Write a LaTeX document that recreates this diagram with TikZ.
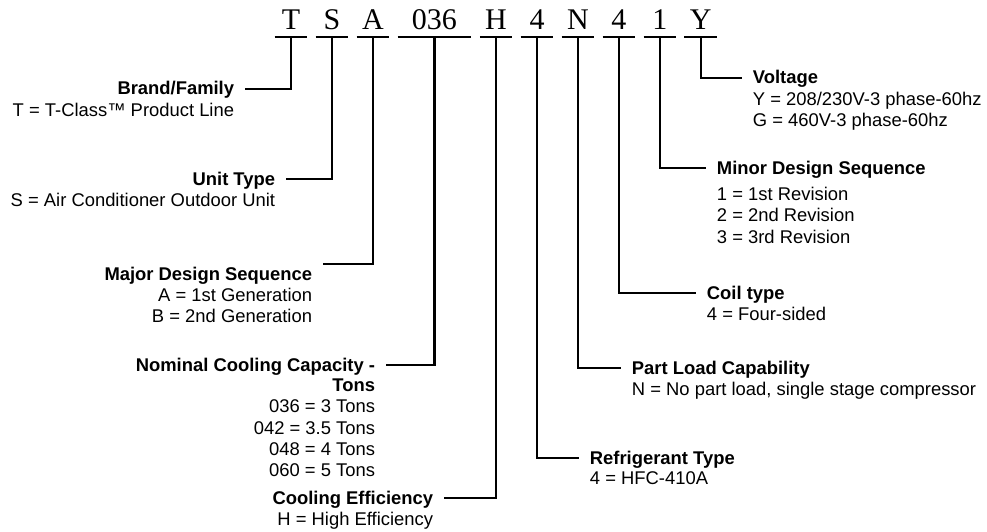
\documentclass[tikz,border=0pt]{standalone}
\usepackage{fontspec}
\setmainfont{Liberation Sans}
\newfontfamily\codefont{Liberation Serif}
\usetikzlibrary{positioning}
\tikzset{
    codechar/.style={font=\codefont\fontsize{22.5}{24}\selectfont, inner sep=0pt, text height=17pt, text depth=5pt, minimum width=24pt},
    head/.style={font=\fontsize{13.8}{16}\selectfont\bfseries, inner xsep=8pt, inner ysep=0pt, text height=12pt, text depth=3pt},
    desc/.style={font=\fontsize{13.8}{16}\selectfont, inner xsep=8pt, inner ysep=0pt},
    uline/.style={line width=1.8pt},
    lead/.style={line width=1.8pt}
}
\begin{document}
\begin{tikzpicture}[x=0.75pt, y=-0.75pt]
\useasboundingbox (0,0) rectangle (987,531);
% model number
\node[codechar, anchor=base] (cT) at (291,30) {T};
\node[codechar, right=6.3pt of cT] (cS) {S};
\node[codechar, right=6.3pt of cS] (cA) {A};
\node[codechar, right=6.3pt of cA, minimum width=55pt] (cCap) {036};
\node[codechar, right=6.3pt of cCap] (cH) {H};
\node[codechar, right=6.3pt of cH] (cRef) {4};
\node[codechar, right=6.3pt of cRef] (cN) {N};
\node[codechar, right=6.3pt of cN] (cCoil) {4};
\node[codechar, right=6.3pt of cCoil] (cMinor) {1};
\node[codechar, right=6.3pt of cMinor] (cY) {Y};
\foreach \c in {cT,cS,cA,cCap,cH,cRef,cN,cCoil,cMinor,cY}
    \draw[uline] (\c.south west) -- (\c.south east);

% left side
\node[head, anchor=east] (brand) at (245,89) {Brand/Family};
\node[desc, below left=2.4pt and 0pt of brand.south east] (brandd) {T = T-Class™ Product Line};
\node[head, anchor=east] (unit) at (286,179) {Unit Type};
\node[desc, below left=2.4pt and 0pt of unit.south east] (unitd) {S = Air Conditioner Outdoor Unit};
\node[head, anchor=north east] (major) at (323,264) {Major Design Sequence};
\node[desc, align=right, below left=2.4pt and 0pt of major.south east] (majord) {A = 1st Generation\\B = 2nd Generation};
\node[head, anchor=east] (cap) at (386,365) {Nominal Cooling Capacity -};
\node[desc, align=right, below left=2.4pt and 0pt of cap.south east] (capd) {\textbf{Tons}\\036 = 3 Tons\\042 = 3.5 Tons\\048 = 4 Tons\\060 = 5 Tons};
\node[head, anchor=east] (eff) at (444,498) {Cooling Efficiency};
\node[desc, below left=2.4pt and 0pt of eff.south east] (effd) {H = High Efficiency};

% right side
\node[head, anchor=west] (volt) at (742,78) {Voltage};
\node[desc, align=left, below right=2.4pt and 0pt of volt.south west] (voltd) {Y = 208/230V-3 phase-60hz\\G = 460V-3 phase-60hz};
\node[head, anchor=west] (minor) at (706,168) {Minor Design Sequence};
\node[desc, align=left, below right=6.5pt and 0pt of minor.south west] (minord) {1 = 1st Revision\\2 = 2nd Revision\\3 = 3rd Revision};
\node[head, anchor=west] (coil) at (696,293) {Coil type};
\node[desc, below right=2.4pt and 0pt of coil.south west] (coild) {4 = Four-sided};
\node[head, anchor=west] (pload) at (621,368) {Part Load Capability};
\node[desc, below right=2.4pt and 0pt of pload.south west] (ploadd) {N = No part load, single stage compressor};
\node[head, anchor=west] (refr) at (579,458) {Refrigerant Type};
\node[desc, below right=2.4pt and 0pt of refr.south west] (refrd) {4 = HFC-410A};

% leaders
\draw[lead] (cT.south) |- (brand.east);
\draw[lead] (cS.south) |- (unit.east);
\draw[lead] (cA.south) |- (major.north east);
\draw[lead] (cCap.south) |- (cap.east);
\draw[lead] (cH.south) |- (eff.east);
\draw[lead] (cRef.south) |- (refr.west);
\draw[lead] (cN.south) |- (pload.west);
\draw[lead] (cCoil.south) |- (coil.west);
\draw[lead] (cMinor.south) |- (minor.west);
\draw[lead] (cY.south) |- (volt.west);
\end{tikzpicture}
\end{document}
